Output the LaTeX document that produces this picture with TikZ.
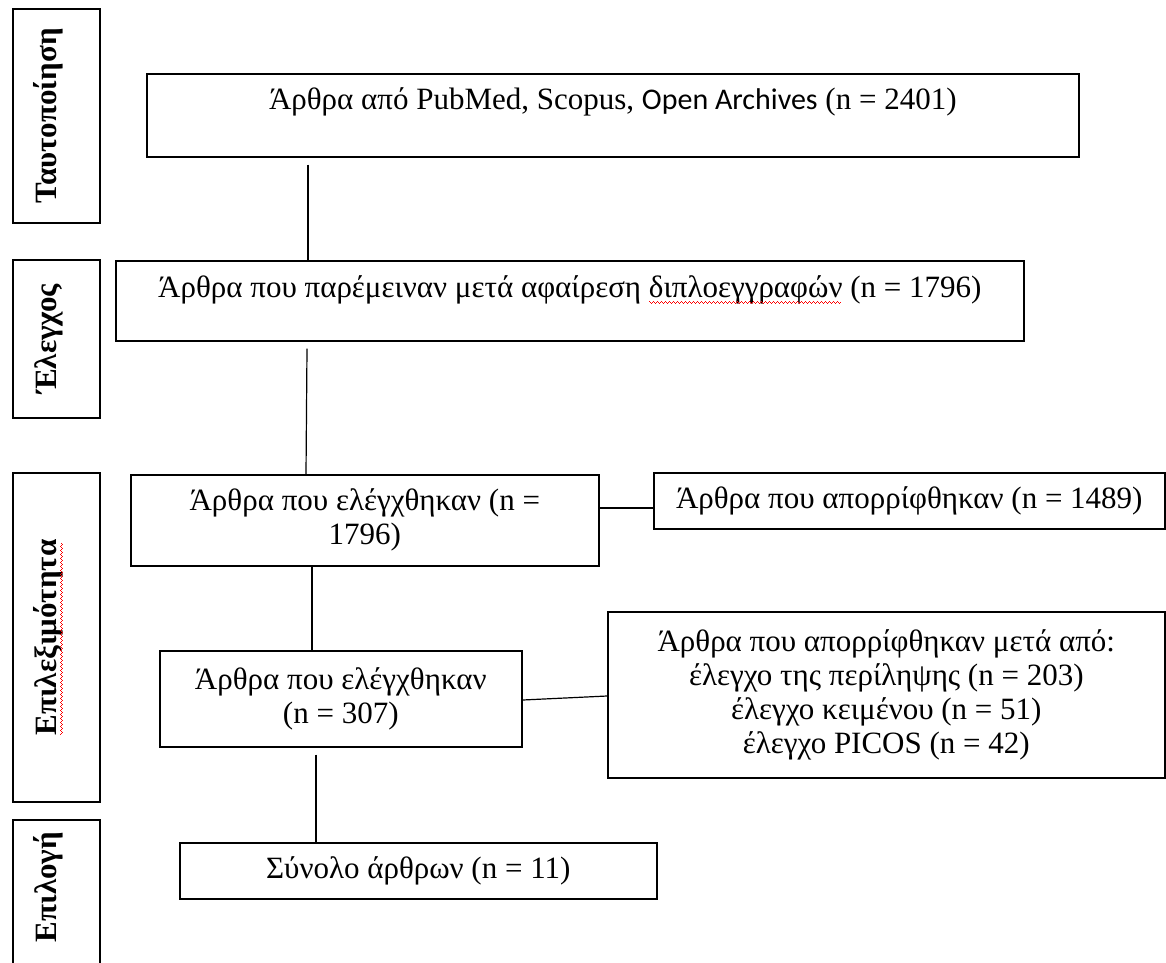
\documentclass[tikz,border=0pt]{standalone}
\usepackage{fontspec}
\setmainfont{Liberation Serif}
\newfontfamily\calibri{Carlito}
\usetikzlibrary{calc}
\newsavebox\wavebox
\newcommand\redwave[1]{\sbox\wavebox{#1}\leavevmode\rlap{\usebox\wavebox}\hbox to \wd\wavebox{\color{red}\leaders\hbox{\raisebox{-4pt}{\rule{1pt}{1pt}}\raisebox{-5pt}{\rule{1pt}{1pt}}\raisebox{-6pt}{\rule{1pt}{1pt}}\raisebox{-5pt}{\rule{1pt}{1pt}}}\hfill}}
\begin{document}
\begin{tikzpicture}[x=1pt,y=-1pt,
  box/.style={draw=black,line width=1.6pt,inner sep=0pt,anchor=north west,font=\fontsize{31}{34}\selectfont},
  side/.style={draw=black,line width=1.6pt,inner sep=0pt,rotate=90,text height=20pt,text depth=20pt,font=\bfseries\fontsize{31}{34}\selectfont},
  conn/.style={draw=black,line width=1.2pt}]
\useasboundingbox (0,0) rectangle (1166,962);
\clip (0,0) rectangle (1166,962);
% side labels
\node[side,minimum width=214pt,minimum height=87pt] (s1) at (56.5,116) {Ταυτοποίηση};
\node[side,minimum width=158pt,minimum height=87pt] (s2) at (56.5,339) {Έλεγχος};
\node[side,minimum width=329pt,minimum height=87pt] (s3) at (56.5,637.5) {\redwave{Επιλεξιμότητα}};
\node[side,minimum width=155pt,minimum height=87pt] (s4) at (56.5,897.5) {\hspace*{21pt}Επιλογή};
% main boxes
\node[box,minimum width=932pt,text height=36pt,text depth=47pt] (b1) at (146,73)
  {Άρθρα από PubMed, Scopus, {\calibri\fontsize{30}{33}\selectfont Open Archives} (n = 2401)};
\node[box,minimum width=908pt,text height=37pt,text depth=43pt] (b2) at (115,260)
  {Άρθρα που παρέμειναν μετά αφαίρεση \redwave{διπλοεγγραφών} (n = 1796)};
\node[box,minimum width=468pt,minimum height=91pt,align=center] (b3) at (130,474)
  {Άρθρα που ελέγχθηκαν (n =\\1796)};
\node[box,minimum width=511pt,text height=36pt,text depth=20pt] (b5) at (653,472)
  {Άρθρα που απορρίφθηκαν (n = 1489)};
\node[box,minimum width=362pt,minimum height=96pt,align=center] (b4) at (159,650)
  {Άρθρα που ελέγχθηκαν\\(n = 307)};
\node[box,minimum width=557pt,minimum height=166pt,align=center] (b6) at (607,611)
  {Άρθρα που απορρίφθηκαν μετά από:\\έλεγχο της περίληψης (n = 203)\\έλεγχο κειμένου (n = 51)\\έλεγχο PICOS (n = 42)};
\node[box,minimum width=477pt,text height=36pt,text depth=20pt] (b7) at (179,842)
  {Σύνολο άρθρων (n = 11)};
% connectors
\draw[conn] ($(b1.south west)+(162,7)$) -- ($(b2.north west)+(193,0)$);
\draw[conn] ($(b2.south west)+(192,7)$) -- ($(b3.north west)+(176,0)$);
\draw[conn] ($(b3.north east)+(0,34)$) -- ($(b5.north west)+(0,36)$);
\draw[conn] ($(b3.south west)+(182,0)$) -- ($(b4.north west)+(153,0)$);
\draw[conn] ($(b4.north east)+(0,50)$) -- ($(b6.north west)+(0,85)$);
\draw[conn] ($(b4.south west)+(157,7)$) -- ($(b7.north west)+(137,0)$);
\end{tikzpicture}
\end{document}
